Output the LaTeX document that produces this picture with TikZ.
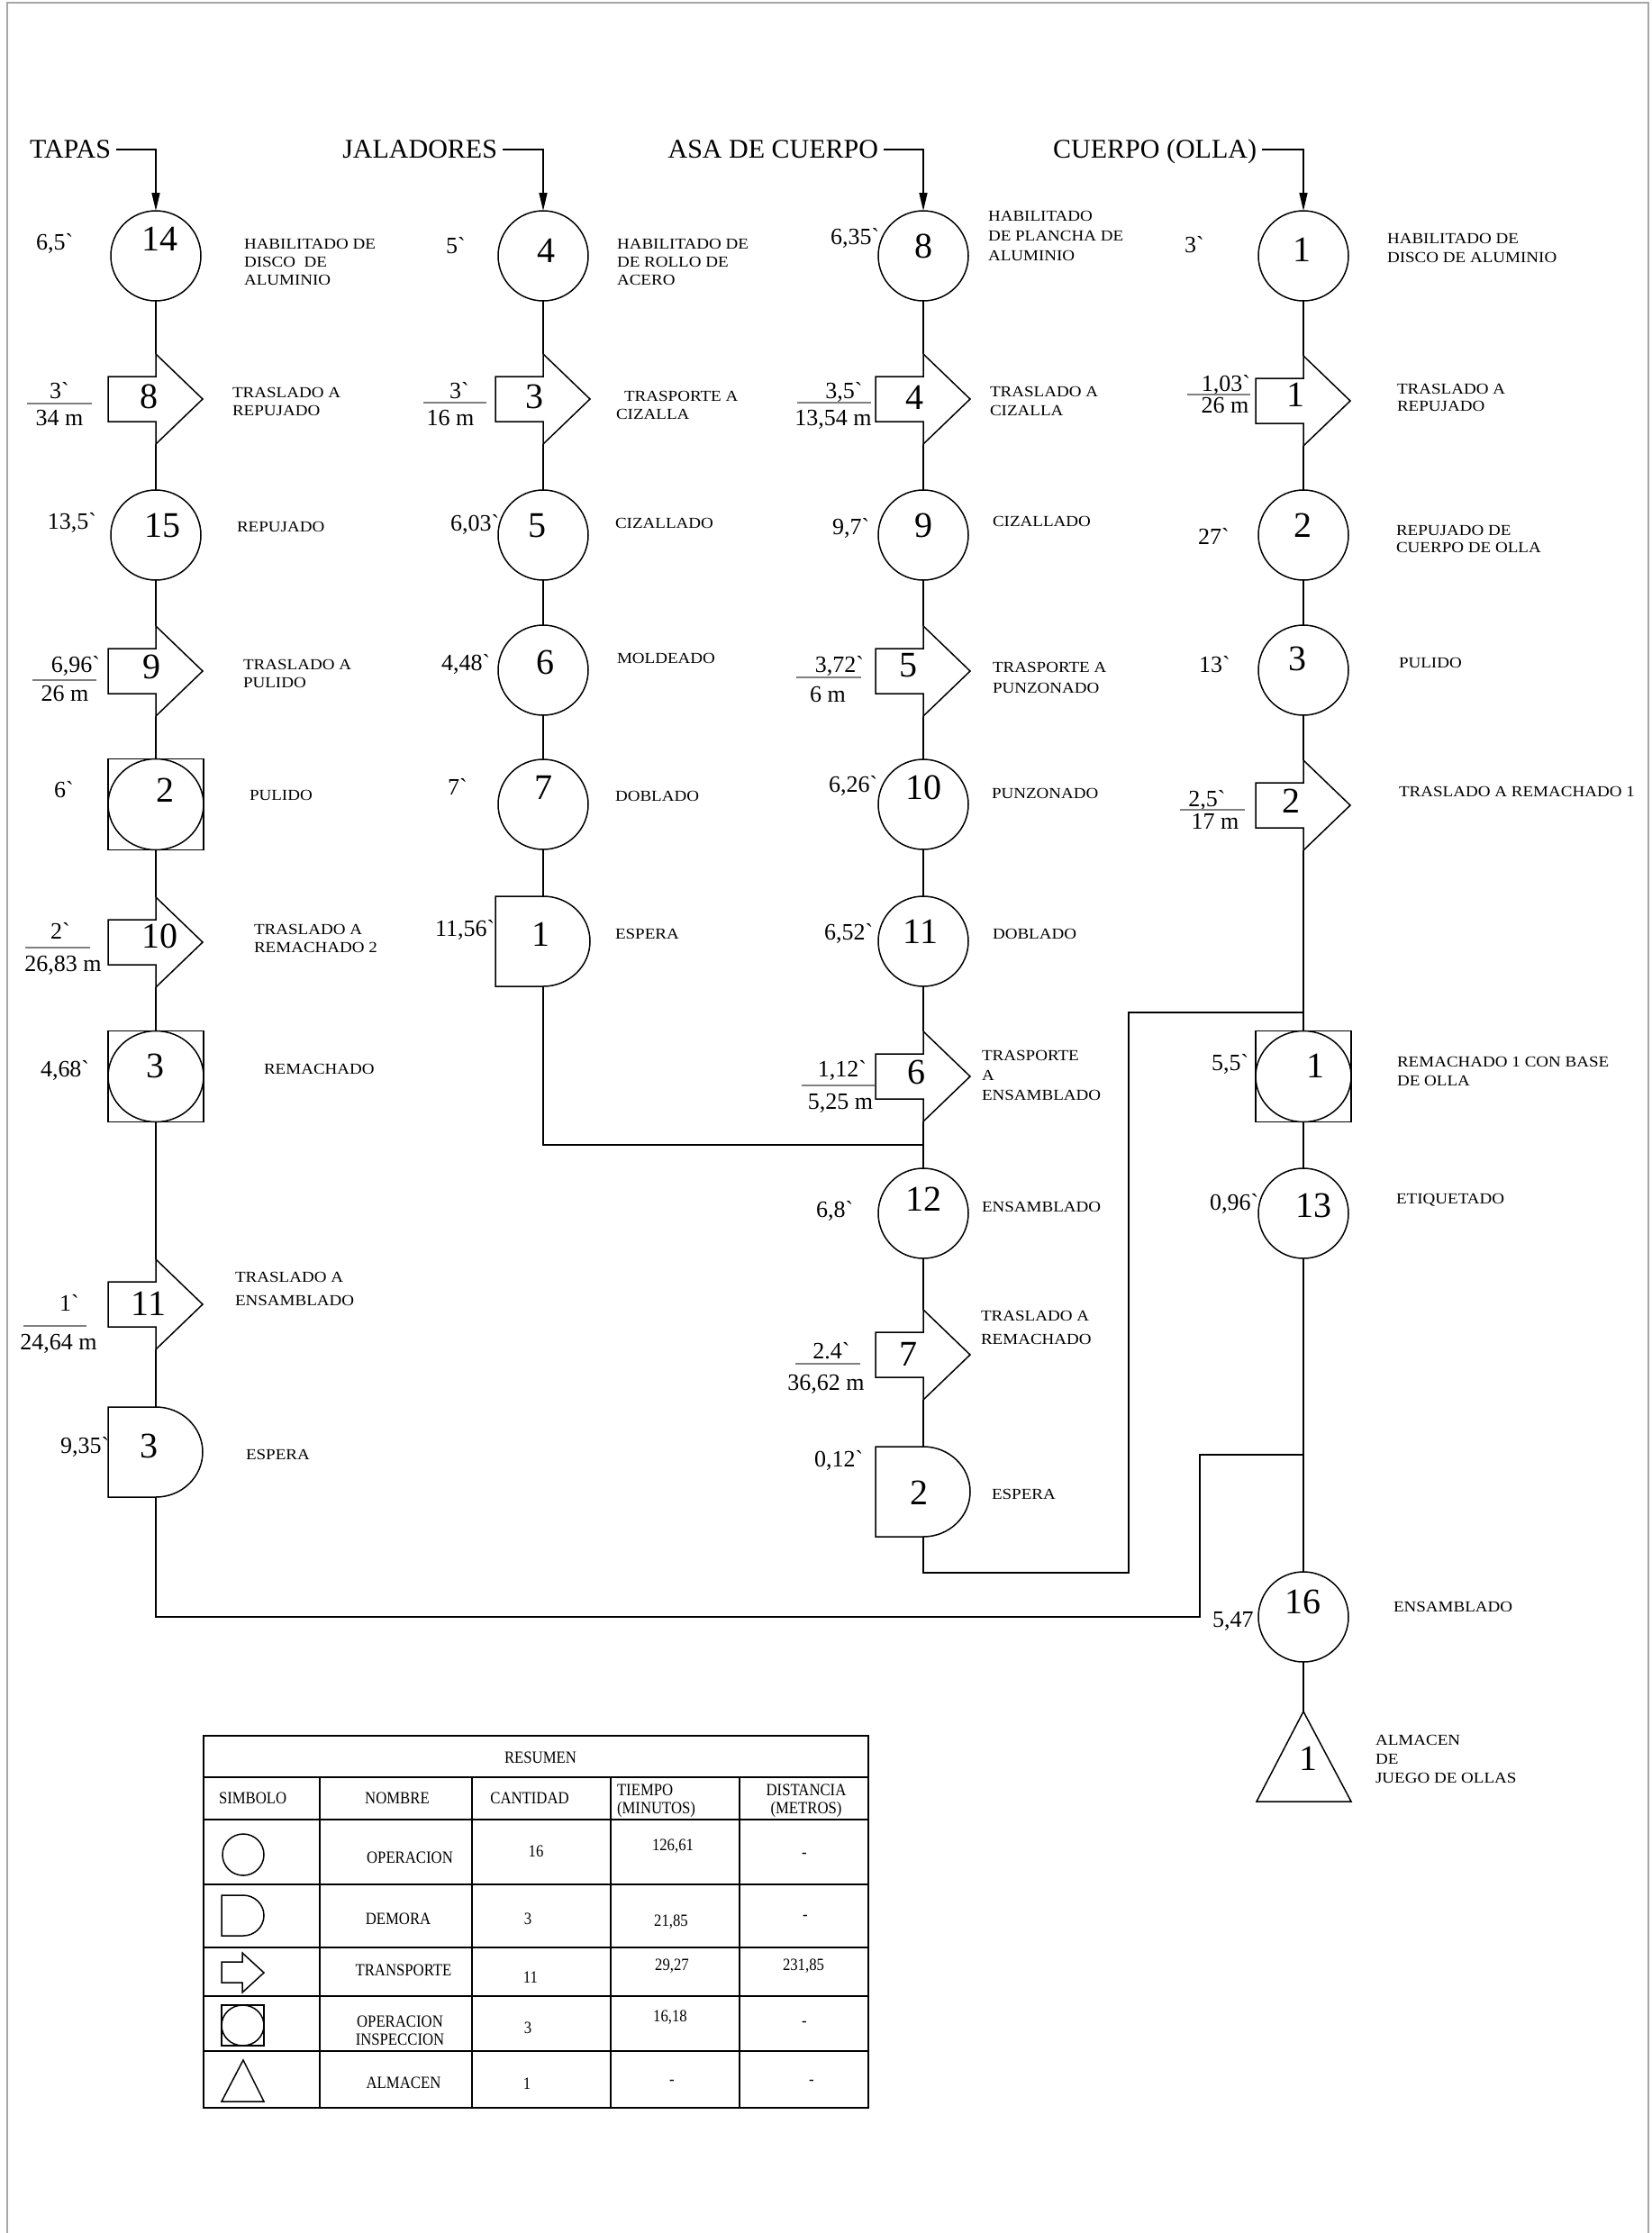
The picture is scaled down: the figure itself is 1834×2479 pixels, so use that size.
\documentclass[tikz,border=0pt]{standalone}
\usepackage{fontspec}
\setmainfont{Liberation Serif}
\newfontfamily\tabfont[FakeStretch=0.88]{Liberation Serif}
\newfontfamily\descfont[FakeStretch=1.12]{Liberation Serif}
\usetikzlibrary{arrows.meta}
\newcommand\bq{\textasciigrave}
\newcommand\transp[3]{%
  \node[anch] (#1) at (#2,#3) {};
  \draw[shp] (#1.north) -- ++(52,50) -- ++(-52,50) -- ++(0,-25) -- ++(-53,0) -- ++(0,-50) -- ++(53,0) -- cycle;}
\newcommand\delay[3]{%
  \node[anch] (#1) at (#2,#3) {};
  \draw[shp] (#1.north) arc[start angle=-90, end angle=90, x radius=52, y radius=50] -- ++(-53,0) -- ++(0,-100) -- cycle;}
\newcommand\comb[3]{%
  \node[combbox] (#1) at (#2,#3) {};
  \draw[shp] (#1.center) ellipse [x radius=53, y radius=50.5];}
\begin{document}
\begin{tikzpicture}[x=0.5pt,y=-0.5pt,
  every node/.style={inner sep=0pt, outer sep=0pt},
  ln/.style={line width=0.75pt},
  shp/.style={line width=0.75pt},
  op/.style={circle, draw, line width=0.75pt, minimum size=50pt},
  combbox/.style={draw, line width=0.75pt, minimum width=53pt, minimum height=50.5pt},
  anch/.style={minimum width=0pt, minimum height=50pt},
  num/.style={font=\fontsize{20}{20}\selectfont, text height=13.5pt, text depth=0pt},
  tm/.style={font=\fontsize{13}{13}\selectfont, text height=8.8pt, text depth=0pt},
  hdr/.style={font=\fontsize{15}{15}\selectfont, inner xsep=3pt, inner ysep=0pt, text height=9.9pt, text depth=0pt, anchor=east},
  desc/.style={font=\descfont\fontsize{8.5}{10}\selectfont, align=left, anchor=north west},
  tab/.style={font=\tabfont\fontsize{9.5}{10}\selectfont, text height=6.3pt, text depth=0pt},
  tabm/.style={font=\tabfont\fontsize{9.5}{10}\selectfont, align=center},
  bar/.style={line width=0.6pt, gray},
  tline/.style={line width=1.2pt},
  hd/.style={ln, -{Triangle[length=10pt,width=4.5pt]}}
]
\fill[white] (0,0) rectangle (1834,2479);
\useasboundingbox (0,0) rectangle (1834,2479);
\draw[gray!70, line width=0.75pt] (8,2479) -- (8,3) -- (1830,3) -- (1830,2479);

% ---------- headers ----------
\node[hdr] (hT) at (129,166) {TAPAS};
\node[hdr] (hJ) at (558,166) {JALADORES};
\node[hdr] (hA) at (981,166) {ASA DE CUERPO};
\node[hdr] (hC) at (1401,166) {CUERPO (OLLA)};

% ---------- TAPAS ----------
\node[op] (o14) at (173,284) {};
\node[num] (n14) at (177,265) {14};
\transp{t8}{173}{443}
\node[num] (n8) at (165,440) {8};
\node[op] (o15) at (173,594) {};
\node[num] (n15) at (180,583) {15};
\transp{t9}{173}{745}
\node[num] (n9) at (168,740) {9};
\comb{c2}{173}{893}
\node[num] (nc2) at (183,877) {2};
\transp{t10}{173}{1046}
\node[num] (n10) at (177,1039) {10};
\comb{c3}{173}{1195}
\node[num] (nc3) at (172,1183) {3};
\transp{t11}{173}{1448}
\node[num] (n11) at (165,1447) {11};
\delay{d3}{173}{1612}
\node[num] (nd3) at (165,1605) {3};

% ---------- JALADORES ----------
\node[op] (o4) at (603,284) {};
\node[num] (n4) at (606,278) {4};
\transp{t3}{603}{443}
\node[num] (n3) at (593,440) {3};
\node[op] (o5) at (603,594) {};
\node[num] (n5) at (596,583) {5};
\node[op] (o6) at (603,744) {};
\node[num] (n6) at (605,735) {6};
\node[op] (o7) at (603,893) {};
\node[num] (n7) at (603,874) {7};
\delay{d1}{603}{1045}
\node[num] (nd1) at (600,1037) {1};

% ---------- ASA DE CUERPO ----------
\node[op] (o8) at (1025,284) {};
\node[num] (n8a) at (1025,273) {8};
\transp{t4}{1025}{443}
\node[num] (n4a) at (1015,441) {4};
\node[op] (o9) at (1025,594) {};
\node[num] (n9a) at (1025,583) {9};
\transp{t5}{1025}{745}
\node[num] (n5a) at (1008,738) {5};
\node[op] (o10) at (1025,893) {};
\node[num] (n10a) at (1025,874) {10};
\node[op] (o11) at (1025,1045) {};
\node[num] (n11a) at (1022,1034) {11};
\transp{t6}{1025}{1195}
\node[num] (n6a) at (1017,1190) {6};
\node[op] (o12) at (1025,1347) {};
\node[num] (n12a) at (1025,1331) {12};
\transp{t7}{1025}{1504}
\node[num] (n7a) at (1008,1503) {7};
\delay{d2}{1025}{1656}
\node[num] (nd2) at (1020,1657) {2};

% ---------- CUERPO ----------
\node[op] (o1) at (1447,284) {};
\node[num] (n1c) at (1445,277) {1};
\transp{t1}{1447}{445}
\node[num] (nt1) at (1438,438) {1};
\node[op] (o2) at (1447,594) {};
\node[num] (n2c) at (1446,583) {2};
\node[op] (o3) at (1447,744) {};
\node[num] (n3c) at (1440,731) {3};
\transp{t2}{1447}{894}
\node[num] (nt2) at (1433,889) {2};
\comb{c1}{1447}{1195}
\node[num] (nc1) at (1460,1183) {1};
\node[op] (o13) at (1447,1347) {};
\node[num] (n13) at (1458,1338) {13};
\node[op] (o16) at (1447,1795) {};
\node[num] (n16) at (1446,1778) {16};
\node[anch] (alm) at (1447,1950) {};
\draw[shp] (alm.north) -- ++(53,100) -- ++(-105,0) -- cycle;
\node[num] (nalm) at (1452,1952) {1};

% ---------- connectors ----------
\draw[hd] (hT.east) -| (o14.north);
\draw[hd] (hJ.east) -| (o4.north);
\draw[hd] (hA.east) -| (o8.north);
\draw[hd] (hC.east) -| (o1.north);

\draw[ln] (o14.south) -- (t8.north) (t8.south) -- (o15.north) (o15.south) -- (t9.north)
  (t9.south) -- (c2.north) (c2.south) -- (t10.north) (t10.south) -- (c3.north)
  (c3.south) -- (t11.north) (t11.south) -- (d3.north);
\draw[ln] (o4.south) -- (t3.north) (t3.south) -- (o5.north) (o5.south) -- (o6.north)
  (o6.south) -- (o7.north) (o7.south) -- (d1.north);
\draw[ln] (o8.south) -- (t4.north) (t4.south) -- (o9.north) (o9.south) -- (t5.north)
  (t5.south) -- (o10.north) (o10.south) -- (o11.north) (o11.south) -- (t6.north)
  (t6.south) -- (o12.north) (o12.south) -- (t7.north) (t7.south) -- (d2.north);
\draw[ln] (o1.south) -- (t1.north) (t1.south) -- (o2.north) (o2.south) -- (o3.north)
  (o3.south) -- (t2.north) (t2.south) -- (c1.north) (c1.south) -- (o13.north)
  (o13.south) -- (o16.north) (o16.south) -- (alm.north);

\coordinate (jJ) at (1025,1271);
\draw[ln] (d1.south) |- (jJ);
\coordinate (kA1) at (1253,1746);
\coordinate (kA2) at (1253,1124);
\coordinate (jC) at (1447,1124);
\draw[ln] (d2.south) |- (kA1) -- (kA2) -- (jC);
\coordinate (kT1) at (1332,1795);
\coordinate (kT2) at (1332,1615);
\coordinate (jT) at (1447,1615);
\draw[ln] (d3.south) |- (kT1) -- (kT2) -- (jT);

% ---------- times ----------
\node[tm, anchor=west] (m14) at (40,269) {6,5\bq};
\node[tm, anchor=west] (m15) at (53,579) {13,5\bq};
\node[tm, anchor=west] (mc2) at (60,877) {6\bq};
\node[tm, anchor=west] (mc3) at (45,1187) {4,68\bq};
\node[tm, anchor=west] (md3) at (67,1605) {9,35\bq};
\node[tm, anchor=west] (m4) at (495,273) {5\bq};
\node[tm, anchor=west] (m5) at (500,581) {6,03\bq};
\node[tm, anchor=west] (m6) at (490,736) {4,48\bq};
\node[tm, anchor=west] (m7) at (497,874) {7\bq};
\node[tm, anchor=west] (md1) at (483,1031) {11,56\bq};
\node[tm, anchor=west] (m8) at (922,263) {6,35\bq};
\node[tm, anchor=west] (m9) at (924,585) {9,7\bq};
\node[tm, anchor=west] (m10) at (920,871) {6,26\bq};
\node[tm, anchor=west] (m11) at (915,1035) {6,52\bq};
\node[tm, anchor=west] (m12) at (906,1343) {6,8\bq};
\node[tm, anchor=west] (md2) at (904,1620) {0,12\bq};
\node[tm, anchor=west] (m1) at (1315,272) {3\bq};
\node[tm, anchor=west] (m2) at (1330,596) {27\bq};
\node[tm, anchor=west] (m3) at (1331,738) {13\bq};
\node[tm, anchor=west] (mc1) at (1345,1180) {5,5\bq};
\node[tm, anchor=west] (m13) at (1343,1335) {0,96\bq};
\node[tm, anchor=west] (m16) at (1346,1798) {5,47};

% ---------- fractions ----------
\node[tm] (f8a) at (66,434) {3\bq};   \node[tm] (f8b) at (66,464) {34 m};   \draw[bar] (30,448) -- (102,448);
\node[tm] (f9a) at (84,738) {6,96\bq}; \node[tm] (f9b) at (72,770) {26 m};  \draw[bar] (36,755) -- (107,755);
\node[tm] (f10a) at (67,1034) {2\bq}; \node[tm] (f10b) at (70,1070) {26,83 m}; \draw[bar] (28,1052) -- (100,1052);
\node[tm] (f11a) at (77,1447) {1\bq}; \node[tm] (f11b) at (65,1490) {24,64 m}; \draw[bar] (26,1472) -- (96,1472);
\node[tm] (f3a) at (510,434) {3\bq};  \node[tm] (f3b) at (500,464) {16 m};  \draw[bar] (470,447) -- (540,447);
\node[tm] (f4a) at (937,434) {3,5\bq}; \node[tm] (f4b) at (925,464) {13,54 m}; \draw[bar] (885,447) -- (967,447);
\node[tm] (f5a) at (932,738) {3,72\bq}; \node[tm] (f5b) at (919,771) {6 m}; \draw[bar] (884,752) -- (956,752);
\node[tm] (f6a) at (935,1187) {1,12\bq}; \node[tm] (f6b) at (933,1223) {5,25 m}; \draw[bar] (890,1205) -- (971,1205);
\node[tm] (f7a) at (923,1500) {2.4\bq}; \node[tm] (f7b) at (917,1535) {36,62 m}; \draw[bar] (883,1514) -- (955,1514);
\node[tm] (f1a) at (1361,426) {1,03\bq}; \node[tm] (f1b) at (1360,450) {26 m}; \draw[bar] (1318,438) -- (1388,438);
\node[tm] (f2a) at (1340,887) {2,5\bq}; \node[tm] (f2b) at (1349,912) {17 m}; \draw[bar] (1310,899) -- (1382,899);

% ---------- descriptions ----------
\node[desc] (x14) at (271,265) {HABILITADO DE\\DISCO\ \ DE\\ALUMINIO};
\node[desc] (xt8) at (258,430) {TRASLADO A\\REPUJADO};
\node[desc] (x15) at (263,579) {REPUJADO};
\node[desc] (xt9) at (270,732) {TRASLADO A\\PULIDO};
\node[desc] (xc2) at (277,877) {PULIDO};
\node[desc] (xt10) at (282,1026) {TRASLADO A\\REMACHADO 2};
\node[desc] (xc3) at (293,1181) {REMACHADO};
\node[desc, font=\descfont\fontsize{8.5}{13}\selectfont] (xt11) at (261,1412) {TRASLADO A\\ENSAMBLADO};
\node[desc] (xd3) at (273,1609) {ESPERA};

\node[desc] (x4) at (685,265) {HABILITADO DE\\DE ROLLO DE\\ACERO};
\node[desc] (xt3) at (684,434) {\hspace*{4.5pt}TRASPORTE A\\CIZALLA};
\node[desc] (x5) at (683,575) {CIZALLADO};
\node[desc] (x6) at (685,725) {MOLDEADO};
\node[desc] (x7) at (683,878) {DOBLADO};
\node[desc] (xd1) at (683,1031) {ESPERA};

\node[desc, font=\descfont\fontsize{8.5}{11}\selectfont] (x8) at (1097,234) {HABILITADO\\DE PLANCHA DE\\ALUMINIO};
\node[desc, font=\descfont\fontsize{8.5}{10.5}\selectfont] (xt4) at (1099,429) {TRASLADO A\\CIZALLA};
\node[desc] (x9) at (1102,573) {CIZALLADO};
\node[desc, font=\descfont\fontsize{8.5}{11.5}\selectfont] (xt5) at (1102,735) {TRASPORTE A\\PUNZONADO};
\node[desc] (x10) at (1101,875) {PUNZONADO};
\node[desc] (x11) at (1102,1031) {DOBLADO};
\node[desc, font=\descfont\fontsize{8.5}{11}\selectfont] (xt6) at (1090,1166) {TRASPORTE\\A\\ENSAMBLADO};
\node[desc] (x12) at (1090,1334) {ENSAMBLADO};
\node[desc, font=\descfont\fontsize{8.5}{13}\selectfont] (xt7) at (1089,1455) {TRASLADO A\\REMACHADO};
\node[desc] (xd2) at (1101,1653) {ESPERA};

\node[desc, font=\descfont\fontsize{8.5}{10.5}\selectfont] (x1) at (1540,259) {HABILITADO DE\\DISCO DE ALUMINIO};
\node[desc, font=\descfont\fontsize{8.5}{9.5}\selectfont] (xt1) at (1551,426) {TRASLADO A\\REPUJADO};
\node[desc, font=\descfont\fontsize{8.5}{9.5}\selectfont] (x2) at (1550,583) {REPUJADO DE\\CUERPO DE OLLA};
\node[desc] (x3) at (1553,730) {PULIDO};
\node[desc] (xt2) at (1553,873) {TRASLADO A REMACHADO 1};
\node[desc, font=\descfont\fontsize{8.5}{10.5}\selectfont] (xc1) at (1551,1173) {REMACHADO 1 CON BASE\\DE OLLA};
\node[desc] (x13) at (1550,1325) {ETIQUETADO};
\node[desc] (x16) at (1547,1778) {ENSAMBLADO};
\node[desc, font=\descfont\fontsize{8.5}{10.5}\selectfont] (xalm) at (1527,1926) {ALMACEN\\DE\\JUEGO DE OLLAS};

% ---------- summary table ----------
\draw[tline] (226,1927) rectangle (964,2340);
\foreach \yy in {1973,2020,2092,2162,2216,2277} \draw[tline] (226,\yy) -- (964,\yy);
\foreach \xx in {355,524,678,821} \draw[tline] (\xx,1973) -- (\xx,2340);

\node[tab] (rs) at (600,1951) {RESUMEN};
\node[tab, anchor=west] (ts) at (243,1996) {SIMBOLO};
\node[tab] (tn) at (441,1996) {NOMBRE};
\node[tab] (tc) at (588,1996) {CANTIDAD};
\node[tabm, align=left, anchor=north west] (tt) at (685,1981) {TIEMPO\\(MINUTOS)};
\node[tabm, anchor=north] (td) at (895,1981) {DISTANCIA\\(METROS)};

\draw[shp] (270,2059) circle [radius=23];
\node[tab] (r1n) at (455,2062) {OPERACION};
\node[tab] (r1c) at (595,2055) {16};
\node[tab] (r1t) at (747,2048) {126,61};
\node[tab] (r1d) at (893,2056) {-};

\draw[shp] (246,2104) -- (270,2104) arc[start angle=-90, end angle=90, x radius=23, y radius=22.5] -- (246,2149) -- cycle;
\node[tab] (r2n) at (442,2130) {DEMORA};
\node[tab] (r2c) at (586,2130) {3};
\node[tab] (r2t) at (745,2132) {21,85};
\node[tab] (r2d) at (894,2125) {-};

\draw[shp] (269,2168) -- (293,2190) -- (269,2212) -- (269,2201) -- (246,2201) -- (246,2178) -- (269,2178) -- cycle;
\node[tab] (r3n) at (448,2187) {TRANSPORTE};
\node[tab] (r3c) at (589,2195) {11};
\node[tab] (r3t) at (746,2181) {29,27};
\node[tab] (r3d) at (892,2181) {231,85};

\draw[shp] (246,2226) rectangle (293,2271);
\draw[shp] (269.5,2248.5) ellipse [x radius=23.5, y radius=22.5];
\node[tabm, anchor=north] (r4n) at (444,2238) {OPERACION\\INSPECCION};
\node[tab] (r4c) at (586,2251) {3};
\node[tab] (r4t) at (744,2238) {16,18};
\node[tab] (r4d) at (893,2243) {-};

\draw[shp] (270,2287) -- (293,2333) -- (246,2333) -- cycle;
\node[tab] (r5n) at (448,2312) {ALMACEN};
\node[tab] (r5c) at (585,2313) {1};
\node[tab] (r5t) at (746,2308) {-};
\node[tab] (r5d) at (901,2308) {-};
\end{tikzpicture}
\end{document}
